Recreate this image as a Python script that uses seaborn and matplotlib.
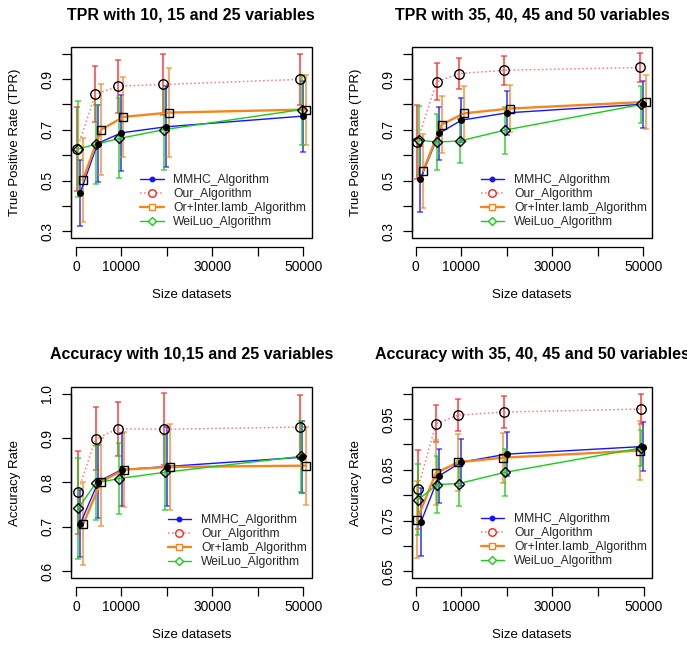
import matplotlib
matplotlib.use("Agg")
import numpy as np
import pandas as pd
import seaborn as sn
from matplotlib import pyplot as plt
from matplotlib.lines import Line2D
from matplotlib.patches import Rectangle

# jittered dataset sizes, mean rate and half-width of the error bar, per algorithm
# panel A: TPR with 10, 15 and 25 variables
tpr_a_x = {"MMHC": [900, 4750, 9950, 19820, 49930], "Our": [250, 4250, 9330, 19240, 49340],
           "Or": [1470, 5560, 10450, 20500, 50660], "WeiLuo": [450, 4450, 9550, 19460, 49710]}
tpr_a_y = {"MMHC": [0.449, 0.646, 0.688, 0.712, 0.754], "Our": [0.625, 0.840, 0.872, 0.879, 0.899],
           "Or": [0.501, 0.701, 0.751, 0.768, 0.780], "WeiLuo": [0.625, 0.643, 0.666, 0.701, 0.780]}
tpr_a_err = {"MMHC": [0.13, 0.15, 0.15, 0.16, 0.14], "Our": [0.165, 0.11, 0.104, 0.12, 0.10],
             "Or": [0.165, 0.18, 0.158, 0.176, 0.138], "WeiLuo": [0.19, 0.155, 0.158, 0.16, 0.138]}

# panel B: TPR with 35, 40, 45 and 50 variables
tpr_b_x = {"MMHC": [1030, 5130, 10040, 20070, 49960], "Our": [290, 4615, 9520, 19410, 49380],
           "Or": [1610, 5714, 10620, 20660, 50550], "WeiLuo": [730, 4690, 9670, 19630, 49600]}
tpr_b_y = {"MMHC": [0.505, 0.686, 0.738, 0.767, 0.801], "Our": [0.652, 0.889, 0.922, 0.935, 0.946],
           "Or": [0.538, 0.721, 0.765, 0.784, 0.810], "WeiLuo": [0.659, 0.652, 0.656, 0.699, 0.800]}
tpr_b_err = {"MMHC": [0.13, 0.104, 0.087, 0.087, 0.092], "Our": [0.146, 0.073, 0.06, 0.058, 0.058],
             "Or": [0.147, 0.113, 0.109, 0.092, 0.106], "WeiLuo": [0.136, 0.112, 0.087, 0.093, 0.072]}

# panel C: accuracy with 10, 15 and 25 variables
acc_a_x = {"MMHC": [950, 4930, 10080, 20000, 49850], "Our": [370, 4340, 9330, 19410, 49410],
           "Or": [1620, 5520, 10660, 20590, 50670], "WeiLuo": [510, 4400, 9490, 19560, 49560]}
acc_a_y = {"MMHC": [0.707, 0.802, 0.829, 0.836, 0.857], "Our": [0.778, 0.899, 0.921, 0.920, 0.925],
           "Or": [0.707, 0.802, 0.829, 0.835, 0.838], "WeiLuo": [0.742, 0.799, 0.809, 0.823, 0.859]}
acc_a_err = {"MMHC": [0.075, 0.082, 0.082, 0.089, 0.081], "Our": [0.094, 0.071, 0.061, 0.081, 0.073],
             "Or": [0.094, 0.099, 0.085, 0.098, 0.088], "WeiLuo": [0.114, 0.083, 0.08, 0.085, 0.08]}

# panel D: accuracy with 35, 40, 45 and 50 variables
acc_b_x = {"MMHC": [1160, 5120, 9960, 20000, 49900], "Our": [440, 4460, 9370, 19400, 49450],
           "Or": [290, 4460, 9370, 19260, 49150], "WeiLuo": [570, 4680, 9520, 19560, 49450]}
acc_b_y = {"MMHC": [0.747, 0.838, 0.865, 0.881, 0.896], "Our": [0.812, 0.941, 0.958, 0.964, 0.970],
           "Or": [0.752, 0.844, 0.865, 0.874, 0.888], "WeiLuo": [0.791, 0.821, 0.823, 0.845, 0.893]}
acc_b_err = {"MMHC": [0.067, 0.054, 0.046, 0.044, 0.048], "Our": [0.078, 0.037, 0.031, 0.031, 0.03],
             "Or": [0.076, 0.064, 0.056, 0.049, 0.058], "WeiLuo": [0.07, 0.057, 0.044, 0.047, 0.036]}

titles = ["TPR with 10, 15 and 25 variables", "TPR with 35, 40, 45 and 50 variables",
          "Accuracy with 10,15 and 25 variables", "Accuracy with 35, 40, 45 and 50 variables"]
ylabels = ["True Positive Rate (TPR)", "True Positive Rate (TPR)", "Accuracy Rate", "Accuracy Rate"]
legend_a = ["MMHC_Algorithm", "Our_Algorithm", "Or+Inter.Iamb_Algorithm", "WeiLuo_Algorithm"]
legend_c = ["MMHC_Algorithm", "Our_Algorithm", "Or+Iamb_Algorithm", "WeiLuo_Algorithm"]
xticks = [0, 10000, 20000, 30000, 40000, 50000]
xticklabels = ["0", "10000", "", "30000", "", "50000"]
yticks_tpr = [0.3, 0.4, 0.5, 0.6, 0.7, 0.8, 0.9, 1.0]
yticklabels_tpr = ["0.3", "", "0.5", "", "0.7", "", "0.9", ""]
yticks_acc_a = [0.6, 0.7, 0.8, 0.9, 1.0]
yticklabels_acc_a = ["0.6", "0.7", "0.8", "0.9", "1.0"]
yticks_acc_b = [0.65, 0.70, 0.75, 0.80, 0.85, 0.90, 0.95, 1.0]
yticklabels_acc_b = ["0.65", "", "0.75", "", "0.85", "", "0.95", ""]

algos = ["MMHC", "Our", "Or", "WeiLuo"]
colors = {"MMHC": "#1414FF", "Our": "#FF2020", "Or": "#F5861C", "WeiLuo": "#18CC18"}
line_colors = {"MMHC": "#1414FF", "Our": "#FF7A7A", "Or": "#F5861C", "WeiLuo": "#18CC18"}
line_styles = {"MMHC": "-", "Our": ":", "Or": "-", "WeiLuo": "-"}
line_widths = {"MMHC": 1.0, "Our": 1.1, "Or": 1.7, "WeiLuo": 1.0}
markers = {"MMHC": "o", "Our": "o", "Or": "s", "WeiLuo": "D"}
marker_sizes = {"MMHC": 4.0, "Our": 6.8, "Or": 6.0, "WeiLuo": 5.5}

sn.set_theme(style="white")
plt.rcParams["font.family"] = ["Liberation Sans", "DejaVu Sans"]

W, H = 687, 646
fig = plt.figure(figsize=(W / 100, H / 100), dpi=100)


def add_box(l, t, r, b):
    return fig.add_axes([l / W, 1 - b / H, (r - l) / W, (b - t) / H])


def draw_panel(ax, xs, ys, errs, title, ylabel, labels, ylim, xlim, yticks, yticklabels,
               legend_xy):
    rows = []
    for a in algos:
        for x, y, e in zip(xs[a], ys[a], errs[a]):
            rows.append({"algo": a, "size": x, "rate": y, "err": e})
    df = pd.DataFrame(rows)

    for a in algos:
        d = df[df["algo"] == a]
        ax.errorbar(d["size"], d["rate"], yerr=d["err"], fmt="none", ecolor=colors[a],
                    elinewidth=1.3, capsize=2.2, capthick=1.1, alpha=0.75, zorder=2)
    for a in algos:
        d = df[df["algo"] == a]
        sn.lineplot(data=d, x="size", y="rate", ax=ax, color=line_colors[a],
                    linestyle=line_styles[a], linewidth=line_widths[a],
                    estimator=None, sort=False, zorder=3)
    for a in algos:
        d = df[df["algo"] == a]
        face = "black" if a == "MMHC" else "none"
        ax.plot(d["size"], d["rate"], linestyle="none", marker=markers[a],
                markersize=marker_sizes[a], markerfacecolor=face,
                markeredgecolor="black", markeredgewidth=1.0, zorder=4)

    ax.set_xlim(*xlim)
    ax.set_ylim(*ylim)
    ax.set_xticks(xticks)
    ax.set_xticklabels(xticklabels)
    ax.set_yticks(yticks)
    ax.set_yticklabels(yticklabels, rotation=90, va="center")

    for s in ["top", "right"]:
        ax.spines[s].set_visible(False)
    ax.spines["left"].set_bounds(yticks[0], yticks[-1])
    ax.spines["bottom"].set_position(("outward", 6))
    ax.spines["bottom"].set_bounds(0, 50000)
    for s in ["left", "bottom"]:
        ax.spines[s].set_color("black")
        ax.spines[s].set_linewidth(0.9)
    ax.add_patch(Rectangle((0, 0), 1, 1, transform=ax.transAxes, fill=False,
                           edgecolor="black", linewidth=1.0, clip_on=False, zorder=5))
    ax.tick_params(axis="both", which="both", direction="out", length=6.5, width=0.9,
                   color="black", labelsize=9.9, labelcolor="black",
                   bottom=True, left=True, top=False, right=False)
    ax.tick_params(axis="x", pad=3)
    ax.tick_params(axis="y", pad=5.5)

    ax.set_xlabel("Size datasets", fontsize=9.5, color="black")
    ax.xaxis.set_label_coords(0.5, -56.7 / 191.6)
    ax.xaxis.label.set_va("center")
    ax.set_ylabel(ylabel, fontsize=9.5, color="black")
    ax.yaxis.set_label_coords(-56 / 240.7, 0.5)
    ax.yaxis.label.set_va("center")
    ax.text(0.5, 1 + 32 / 191.6, title, transform=ax.transAxes, ha="center", va="center",
            fontsize=11.5, fontweight="bold", color="black", clip_on=False)

    handles = []
    for a in algos:
        face = colors[a] if a == "MMHC" else "white"
        handles.append(Line2D([0], [0], color=line_colors[a], linestyle=line_styles[a],
                              linewidth=line_widths[a], marker=markers[a],
                              markersize=marker_sizes[a] * 0.8, markerfacecolor=face,
                              markeredgecolor=colors[a], markeredgewidth=1.0))
    ax.legend(handles, labels, loc="upper left",
              bbox_to_anchor=(legend_xy[0] / W, 1 - legend_xy[1] / H),
              bbox_transform=fig.transFigure, frameon=False, fontsize=8.7,
              handlelength=1.95, handletextpad=0.8, labelspacing=0.17,
              borderpad=0, borderaxespad=0)


ax1 = add_box(71, 46.7, 311.7, 238.3)
ax2 = add_box(412, 46.7, 652, 238.3)
ax3 = add_box(71, 386.7, 311.7, 578.3)
ax4 = add_box(412, 386.7, 652.3, 578.3)

draw_panel(ax1, tpr_a_x, tpr_a_y, tpr_a_err, titles[0], ylabels[0], legend_a,
           (0.272, 1.028), (-1100, 51900), yticks_tpr, yticklabels_tpr, (140, 174))
draw_panel(ax2, tpr_b_x, tpr_b_y, tpr_b_err, titles[1], ylabels[1], legend_a,
           (0.272, 1.028), (-810, 51930), yticks_tpr, yticklabels_tpr, (480.7, 174))
draw_panel(ax3, acc_a_x, acc_a_y, acc_a_err, titles[2], ylabels[2], legend_c,
           (0.584, 1.016), (-1100, 51900), yticks_acc_a, yticklabels_acc_a, (167.7, 514))
draw_panel(ax4, acc_b_x, acc_b_y, acc_b_err, titles[3], ylabels[3], legend_a,
           (0.636, 1.014), (-810, 51930), yticks_acc_b, yticklabels_acc_b, (480.7, 513))

fig.savefig("out.png", dpi=100, facecolor="white")
